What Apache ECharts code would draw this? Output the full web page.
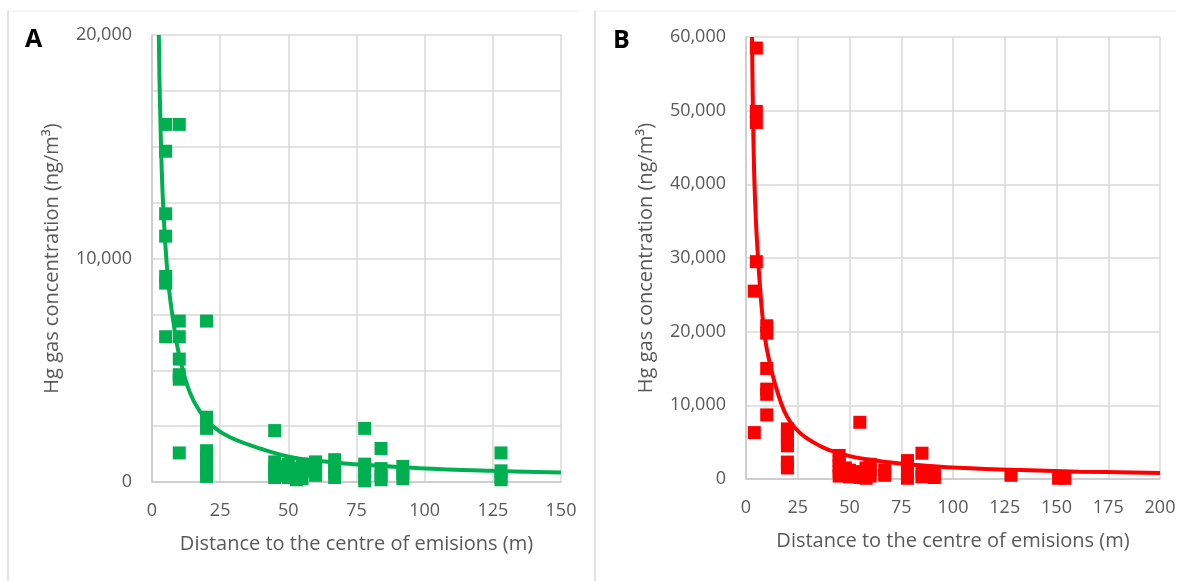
<!DOCTYPE html>
<html>
<head>
<meta charset="utf-8">
<title>Hg gas concentration vs distance</title>
<script src="https://cdn.jsdelivr.net/npm/echarts@6/dist/echarts.min.js"></script>
<style>
  html, body { margin: 0; padding: 0; background: #ffffff; }
  #chart { width: 1183px; height: 581px; }
</style>
</head>
<body>
<div id="chart"></div>
<script>
// Panel A (green): measured points, distance (m) and Hg concentration (ng/m3)
const distA = [
  5, 5, 5, 5, 5, 5, 5,
  10, 10, 10, 10, 10, 10, 10,
  20, 20, 20, 20, 20, 20, 20, 20,
  45, 45, 45, 45, 45,
  48, 48,
  50, 50, 50,
  53, 53, 53,
  55, 55, 55,
  58, 58,
  60, 60, 60,
  67, 67, 67, 67,
  78, 78, 78, 78, 78,
  84, 84, 84, 84,
  92, 92, 92,
  128, 128, 128, 128
];
const concA = [
  16000, 14800, 12000, 11000, 9200, 8900, 6500,
  16000, 7200, 6500, 5500, 4800, 4600, 1300,
  7200, 2900, 2400, 1400, 1100, 800, 500, 250,
  2300, 900, 600, 400, 200,
  700, 300,
  800, 500, 200,
  600, 300, 100,
  700, 400, 150,
  800, 500,
  900, 600, 300,
  1000, 700, 400, 200,
  2400, 800, 500, 200, 50,
  1500, 600, 300, 100,
  700, 400, 150,
  1300, 500, 200, 100
];
// Panel A trend curve, points along the fitted line
const trendDistA = [2.5, 2.9, 4.0, 5.9, 8.4, 10.3, 13.9, 17.6, 22.4, 28.6, 39.6, 51.7, 69, 76, 98, 125, 150];
const trendConcA = [20000, 17100, 12600, 9040, 6700, 5500, 4000, 3150, 2480, 2000, 1500, 1100, 850, 780, 620, 500, 420];

// Panel B (red): measured points
const distB = [
  4, 4,
  5, 5, 5, 5,
  10, 10, 10, 10, 10, 10,
  20, 20, 20, 20, 20, 20,
  45, 45, 45, 45, 45,
  48, 48,
  50, 50,
  53, 53,
  55, 55, 55,
  58, 58, 58,
  60, 60, 60,
  67, 67,
  78, 78, 78, 78, 78,
  85, 85, 85,
  91, 91,
  128,
  151, 154
];
const concB = [
  25500, 6300,
  58500, 49900, 48400, 29500,
  20800, 19800, 15000, 12200, 11500, 8700,
  6800, 6000, 5200, 4500, 2300, 1500,
  3200, 2500, 1800, 1000, 400,
  1500, 600,
  1200, 300,
  1000, 300,
  7700, 800, 200,
  1500, 600, 100,
  2000, 1200, 400,
  1200, 500,
  2500, 1800, 1000, 400, 100,
  3500, 1000, 300,
  700, 200,
  500,
  100, 100
];
// Panel B trend curve, points along the fitted line
const trendDistB = [2.9, 3.3, 3.9, 4.8, 5.8, 6.8, 8.0, 10.1, 15, 21.3, 32.4, 47, 65, 80.7, 97, 129, 161, 200];
const trendConcB = [60000, 51000, 42000, 35000, 30000, 26000, 22000, 17600, 12000, 7800, 5000, 3350, 2400, 1950, 1600, 1250, 1000, 830];

// Axis ranges and tick labels
const xTicksA = [0, 25, 50, 75, 100, 125, 150];
const yTicksA = [0, 10000, 20000];
const xTicksB = [0, 25, 50, 75, 100, 125, 150, 175, 200];
const yTicksB = [0, 10000, 20000, 30000, 40000, 50000, 60000];

const xName = 'Distance to the centre of emisions (m)';
const yName = 'Hg gas concentration (ng/m\u00B3)';

const GREEN = '#00b050';
const RED = '#ff0000';
const FONT = '"Open Sans", "Noto Sans", sans-serif';
const TEXT = '#595959';
const GRID_LINE = '#d9d9d9';

const zip = (xs, ys) => xs.map((x, i) => [x, ys[i]]);
const fmt = v => v.toLocaleString('en-US');

function xAxisFor(gridIndex, ticks) {
  return {
    type: 'value', gridIndex,
    min: ticks[0], max: ticks[ticks.length - 1], interval: ticks[1] - ticks[0],
    name: xName, nameLocation: 'middle', nameGap: 52,
    nameTextStyle: { fontFamily: FONT, fontSize: 20, color: TEXT },
    axisLine: { show: true, lineStyle: { color: '#c8c8c8', width: 1.5 } },
    axisTick: { show: false },
    axisLabel: { fontFamily: FONT, fontSize: 18, color: TEXT, margin: 20 },
    splitLine: { show: true, lineStyle: { color: GRID_LINE, width: 1.5 } }
  };
}

function yAxisFor(gridIndex, ticks, gridStep) {
  return {
    type: 'value', gridIndex,
    min: ticks[0], max: ticks[ticks.length - 1], interval: gridStep,
    name: yName, nameLocation: 'middle', nameGap: 90,
    nameTextStyle: { fontFamily: FONT, fontSize: 20, color: TEXT },
    axisLine: { show: true, lineStyle: { color: '#c8c8c8', width: 1.5 } },
    axisTick: { show: false },
    axisLabel: {
      fontFamily: FONT, fontSize: 18, color: TEXT, margin: 20,
      formatter: v => (ticks.indexOf(v) >= 0 ? fmt(v) : '')
    },
    splitLine: { show: true, lineStyle: { color: GRID_LINE, width: 1.5 } }
  };
}

const chart = echarts.init(document.getElementById('chart'), null, { renderer: 'canvas' });

chart.setOption({
  backgroundColor: '#ffffff',
  animation: false,
  graphic: [
    // panel frames
    { type: 'line', shape: { x1: 8, y1: 11, x2: 578, y2: 11 }, style: { stroke: '#eeeeee', lineWidth: 1 } },
    { type: 'line', shape: { x1: 8, y1: 11, x2: 8, y2: 581 }, style: { stroke: '#d9d9d9', lineWidth: 1.5 } },
    { type: 'line', shape: { x1: 595, y1: 11, x2: 1176, y2: 11 }, style: { stroke: '#eeeeee', lineWidth: 1 } },
    { type: 'line', shape: { x1: 595, y1: 11, x2: 595, y2: 581 }, style: { stroke: '#d9d9d9', lineWidth: 1.5 } },
    // panel letters
    { type: 'text', left: 25, top: 27, style: { text: 'A', font: 'bold 25px "Open Sans", sans-serif', fill: '#000000' } },
    { type: 'text', left: 613, top: 28, style: { text: 'B', font: 'bold 25px "Open Sans", sans-serif', fill: '#000000' } }
  ],
  grid: [
    { left: 152, top: 35, width: 409, height: 447 },
    { left: 746, top: 37, width: 414, height: 442 }
  ],
  xAxis: [xAxisFor(0, xTicksA), xAxisFor(1, xTicksB)],
  yAxis: [yAxisFor(0, yTicksA, 2500), yAxisFor(1, yTicksB, 10000)],
  series: [
    {
      type: 'scatter', xAxisIndex: 0, yAxisIndex: 0,
      data: zip(distA, concA), symbol: 'rect', symbolSize: 13,
      itemStyle: { color: GREEN, opacity: 1 }, z: 3
    },
    {
      type: 'line', xAxisIndex: 0, yAxisIndex: 0,
      data: zip(trendDistA, trendConcA), smooth: 0.4, showSymbol: false,
      lineStyle: { color: GREEN, width: 4 }, z: 4
    },
    {
      type: 'scatter', xAxisIndex: 1, yAxisIndex: 1,
      data: zip(distB, concB), symbol: 'rect', symbolSize: 13,
      itemStyle: { color: RED, opacity: 1 }, z: 3
    },
    {
      type: 'line', xAxisIndex: 1, yAxisIndex: 1,
      data: zip(trendDistB, trendConcB), smooth: 0.4, showSymbol: false,
      lineStyle: { color: RED, width: 4 }, z: 4
    }
  ]
});
</script>
</body>
</html>
